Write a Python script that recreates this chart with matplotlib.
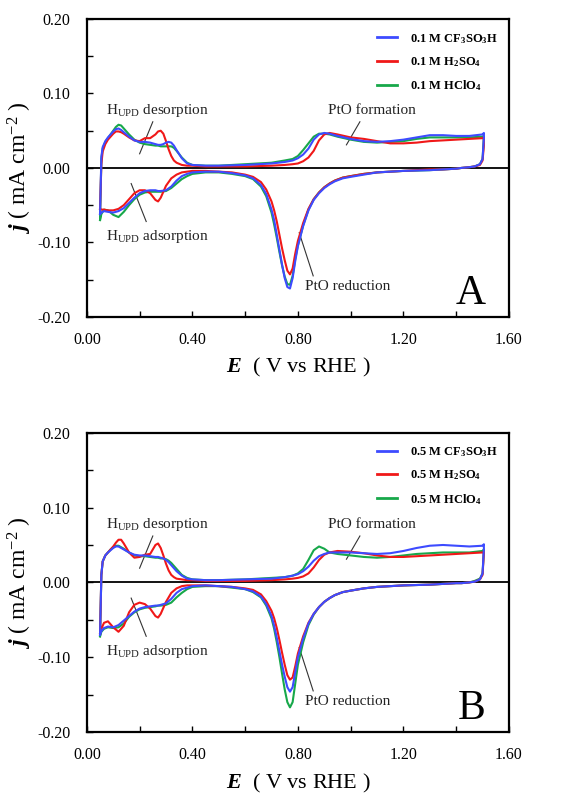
import numpy as np
import matplotlib
matplotlib.use("Agg")
import matplotlib.pyplot as plt
from matplotlib.ticker import MultipleLocator

plt.rcParams['font.family'] = ['Liberation Serif', 'DejaVu Serif']
plt.rcParams['mathtext.fontset'] = 'custom'
plt.rcParams['mathtext.rm'] = 'Liberation Serif'
plt.rcParams['mathtext.it'] = 'Liberation Serif:italic'
plt.rcParams['mathtext.bf'] = 'Liberation Serif:bold'
plt.rcParams['mathtext.bfit'] = 'Liberation Serif:italic:bold'

# potential grids (V vs RHE): anodic sweep up, cathodic sweep back down
xa = [0.05, 0.055, 0.06, 0.07, 0.08, 0.09, 0.10, 0.11, 0.12, 0.13, 0.14, 0.16, 0.18, 0.20,
      0.22, 0.24, 0.26, 0.27, 0.28, 0.29, 0.30, 0.31, 0.32, 0.33, 0.34, 0.36, 0.38, 0.40,
      0.45, 0.50, 0.60, 0.70, 0.75, 0.78, 0.80, 0.82, 0.84, 0.86, 0.88, 0.90, 0.92, 0.95,
      1.00, 1.05, 1.10, 1.15, 1.20, 1.25, 1.30, 1.35, 1.40, 1.45, 1.50, 1.505]
xc = [1.505, 1.50, 1.49, 1.47, 1.45, 1.42, 1.40, 1.35, 1.30, 1.20, 1.10, 1.05, 1.00, 0.97,
      0.94, 0.92, 0.90, 0.88, 0.86, 0.84, 0.82, 0.80, 0.79, 0.78, 0.77, 0.76, 0.75, 0.74,
      0.73, 0.72, 0.71, 0.70, 0.68, 0.66, 0.63, 0.60, 0.55, 0.50, 0.45, 0.40, 0.38, 0.36,
      0.34, 0.32, 0.30, 0.28, 0.27, 0.26, 0.24, 0.22, 0.20, 0.18, 0.16, 0.14, 0.12, 0.10,
      0.08, 0.065, 0.055, 0.05]

# ---- panel A : 0.1 M ----
a_cf3_up = [-0.062, 0.015, 0.028, 0.036, 0.041, 0.045, 0.049, 0.052, 0.053, 0.051, 0.048, 0.042, 0.037, 0.035,
            0.035, 0.034, 0.032, 0.031, 0.031, 0.032, 0.034, 0.035, 0.034, 0.030, 0.024, 0.013, 0.006, 0.004,
            0.003, 0.003, 0.004, 0.006, 0.008, 0.010, 0.013, 0.018, 0.026, 0.038, 0.045, 0.047, 0.046, 0.043,
            0.039, 0.036, 0.035, 0.036, 0.038, 0.041, 0.044, 0.044, 0.043, 0.043, 0.045, 0.047]
a_h2so4_up = [-0.055, 0.005, 0.022, 0.032, 0.038, 0.042, 0.046, 0.049, 0.049, 0.048, 0.046, 0.041, 0.037, 0.036,
              0.040, 0.040, 0.045, 0.049, 0.050, 0.046, 0.036, 0.025, 0.016, 0.010, 0.007, 0.004, 0.003, 0.003,
              0.002, 0.002, 0.002, 0.003, 0.004, 0.005, 0.006, 0.009, 0.014, 0.023, 0.037, 0.045, 0.047, 0.045,
              0.041, 0.039, 0.036, 0.033, 0.033, 0.034, 0.036, 0.037, 0.038, 0.039, 0.040, 0.041]
a_hclo4_up = [-0.070, 0.012, 0.026, 0.035, 0.040, 0.045, 0.050, 0.055, 0.058, 0.057, 0.053, 0.045, 0.038, 0.034,
              0.032, 0.031, 0.030, 0.030, 0.029, 0.029, 0.029, 0.029, 0.029, 0.027, 0.023, 0.014, 0.007, 0.004,
              0.003, 0.003, 0.005, 0.007, 0.010, 0.012, 0.016, 0.024, 0.033, 0.042, 0.046, 0.046, 0.045, 0.042,
              0.038, 0.035, 0.034, 0.035, 0.036, 0.039, 0.041, 0.041, 0.041, 0.041, 0.042, 0.043]
a_cf3_dn = [0.040, 0.012, 0.005, 0.002, 0.001, 0.000, -0.001, -0.002, -0.003, -0.004, -0.006, -0.009, -0.012, -0.014,
            -0.018, -0.022, -0.027, -0.034, -0.043, -0.057, -0.078, -0.105, -0.125, -0.148, -0.162, -0.160, -0.148, -0.130,
            -0.110, -0.090, -0.070, -0.056, -0.035, -0.023, -0.014, -0.010, -0.007, -0.005, -0.005, -0.006, -0.008, -0.011,
            -0.017, -0.025, -0.030, -0.031, -0.031, -0.030, -0.030, -0.031, -0.034, -0.040, -0.047, -0.054, -0.058, -0.060,
            -0.059, -0.058, -0.060, -0.062]
a_h2so4_dn = [0.030, 0.010, 0.004, 0.002, 0.001, 0.000, -0.001, -0.002, -0.002, -0.004, -0.006, -0.008, -0.011, -0.013,
              -0.017, -0.021, -0.026, -0.033, -0.042, -0.055, -0.074, -0.098, -0.115, -0.135, -0.143, -0.138, -0.124, -0.108,
              -0.090, -0.072, -0.057, -0.045, -0.029, -0.019, -0.012, -0.009, -0.006, -0.005, -0.004, -0.004, -0.005, -0.006,
              -0.009, -0.014, -0.024, -0.040, -0.045, -0.043, -0.034, -0.030, -0.030, -0.034, -0.042, -0.050, -0.055, -0.057,
              -0.057, -0.056, -0.056, -0.055]
a_hclo4_dn = [0.042, 0.012, 0.005, 0.002, 0.001, 0.000, -0.001, -0.002, -0.003, -0.004, -0.006, -0.008, -0.011, -0.013,
              -0.017, -0.021, -0.026, -0.033, -0.042, -0.056, -0.077, -0.104, -0.122, -0.145, -0.157, -0.156, -0.146, -0.131,
              -0.113, -0.094, -0.076, -0.060, -0.038, -0.025, -0.015, -0.011, -0.008, -0.006, -0.006, -0.008, -0.011, -0.015,
              -0.021, -0.027, -0.031, -0.032, -0.032, -0.032, -0.032, -0.033, -0.036, -0.042, -0.050, -0.059, -0.066, -0.063,
              -0.057, -0.056, -0.062, -0.070]

# ---- panel B : 0.5 M ----
b_cf3_up = [-0.070, 0.010, 0.028, 0.036, 0.040, 0.043, 0.046, 0.048, 0.048, 0.046, 0.044, 0.040, 0.037, 0.036,
            0.036, 0.035, 0.034, 0.034, 0.033, 0.032, 0.030, 0.027, 0.023, 0.019, 0.015, 0.009, 0.005, 0.004,
            0.003, 0.003, 0.004, 0.005, 0.007, 0.009, 0.011, 0.015, 0.021, 0.029, 0.035, 0.038, 0.040, 0.040,
            0.040, 0.039, 0.038, 0.039, 0.042, 0.046, 0.049, 0.050, 0.049, 0.048, 0.049, 0.051]
b_h2so4_up = [-0.068, 0.010, 0.028, 0.036, 0.040, 0.044, 0.048, 0.053, 0.057, 0.057, 0.052, 0.040, 0.033, 0.034,
              0.037, 0.038, 0.050, 0.052, 0.046, 0.036, 0.025, 0.016, 0.010, 0.007, 0.005, 0.004, 0.003, 0.003,
              0.002, 0.002, 0.002, 0.003, 0.004, 0.005, 0.006, 0.008, 0.012, 0.020, 0.030, 0.037, 0.040, 0.042,
              0.041, 0.039, 0.036, 0.034, 0.034, 0.035, 0.036, 0.037, 0.038, 0.039, 0.040, 0.041]
b_hclo4_up = [-0.072, 0.010, 0.028, 0.036, 0.040, 0.044, 0.047, 0.049, 0.049, 0.047, 0.045, 0.040, 0.036, 0.035,
              0.035, 0.034, 0.033, 0.033, 0.032, 0.032, 0.031, 0.029, 0.026, 0.022, 0.018, 0.010, 0.006, 0.004,
              0.003, 0.003, 0.004, 0.006, 0.007, 0.009, 0.012, 0.018, 0.030, 0.043, 0.048, 0.045, 0.040, 0.038,
              0.036, 0.034, 0.033, 0.034, 0.036, 0.038, 0.039, 0.040, 0.040, 0.040, 0.042, 0.044]
b_cf3_dn = [0.045, 0.012, 0.004, 0.001, 0.000, -0.001, -0.001, -0.002, -0.003, -0.004, -0.006, -0.008, -0.011, -0.013,
            -0.017, -0.021, -0.026, -0.033, -0.042, -0.055, -0.075, -0.100, -0.120, -0.140, -0.146, -0.140, -0.126, -0.110,
            -0.092, -0.074, -0.058, -0.045, -0.029, -0.019, -0.012, -0.009, -0.006, -0.005, -0.004, -0.005, -0.007, -0.009,
            -0.014, -0.022, -0.028, -0.030, -0.031, -0.031, -0.032, -0.033, -0.035, -0.039, -0.045, -0.051, -0.057, -0.060,
            -0.059, -0.061, -0.065, -0.070]
b_h2so4_dn = [0.040, 0.010, 0.004, 0.001, 0.000, -0.001, -0.001, -0.002, -0.003, -0.004, -0.006, -0.008, -0.011, -0.013,
              -0.017, -0.021, -0.026, -0.033, -0.042, -0.054, -0.072, -0.095, -0.112, -0.127, -0.130, -0.124, -0.110, -0.094,
              -0.077, -0.061, -0.048, -0.038, -0.025, -0.016, -0.010, -0.008, -0.006, -0.005, -0.004, -0.004, -0.004, -0.005,
              -0.008, -0.014, -0.026, -0.042, -0.047, -0.045, -0.035, -0.029, -0.027, -0.030, -0.040, -0.058, -0.066, -0.060,
              -0.052, -0.054, -0.062, -0.068]
b_hclo4_dn = [0.043, 0.012, 0.005, 0.002, 0.000, -0.001, -0.001, -0.002, -0.003, -0.004, -0.006, -0.008, -0.011, -0.013,
              -0.017, -0.021, -0.026, -0.033, -0.043, -0.057, -0.080, -0.110, -0.135, -0.160, -0.167, -0.160, -0.143, -0.122,
              -0.100, -0.080, -0.062, -0.048, -0.031, -0.020, -0.013, -0.009, -0.007, -0.005, -0.005, -0.006, -0.009, -0.014,
              -0.020, -0.027, -0.030, -0.031, -0.031, -0.032, -0.033, -0.034, -0.036, -0.040, -0.046, -0.055, -0.060, -0.061,
              -0.060, -0.062, -0.066, -0.072]

acids = [r'CF$_\mathbf{3}$SO$_\mathbf{3}$H', r'H$_\mathbf{2}$SO$_\mathbf{4}$', r'HClO$_\mathbf{4}$']
colors = ['#3d4bff', '#f01818', '#17a84a']


def panel(ax, conc, ups, dns, letter):
    ax.axhline(0, color='black', lw=1.3, zorder=1)
    lines = []
    for k in [2, 1, 0]:
        x = np.concatenate([xa, xc])
        y = np.concatenate([ups[k], dns[k]])
        l, = ax.plot(x, y, color=colors[k], lw=1.5, zorder=3 + (2 - k),
                     label=conc + ' M ' + acids[k])
        lines.append(l)
    lines = lines[::-1]
    leg = ax.legend(handles=lines, loc='upper right', frameon=False, prop={'weight': 'bold', 'size': 9},
                    handlelength=1.6, handletextpad=1.0, labelspacing=0.75,
                    bbox_to_anchor=(1.0, 0.995))
    for h in leg.legend_handles:
        h.set_linewidth(2.0)

    # annotations
    tc = '#222222'
    ax.text(0.073, 0.077, r'H$_{\mathrm{UPD}}$ desorption', fontsize=11, va='center', color=tc)
    ax.plot([0.25, 0.20], [0.062, 0.019], color='#333333', lw=0.8)
    ax.text(0.915, 0.077, 'PtO formation', fontsize=11, va='center', color=tc)
    ax.plot([1.035, 0.984], [0.062, 0.031], color='#333333', lw=0.8)
    ax.text(0.073, -0.092, r'H$_{\mathrm{UPD}}$ adsorption', fontsize=11, va='center', color=tc)
    ax.plot([0.168, 0.225], [-0.021, -0.072], color='#333333', lw=0.8)
    ax.text(0.826, -0.159, 'PtO reduction', fontsize=11, va='center', color=tc)
    ax.plot([0.805, 0.858], [-0.087, -0.145], color='#333333', lw=0.8)
    ax.text(1.51, -0.183, letter, fontsize=30, ha='right', va='baseline')

    ax.set_xlim(0, 1.6)
    ax.set_ylim(-0.2, 0.2)
    ax.xaxis.set_major_locator(MultipleLocator(0.4))
    ax.xaxis.set_minor_locator(MultipleLocator(0.2))
    ax.yaxis.set_major_locator(MultipleLocator(0.1))
    ax.yaxis.set_minor_locator(MultipleLocator(0.05))
    ax.xaxis.set_major_formatter(plt.FuncFormatter(lambda v, p: '%.2f' % v))
    ax.yaxis.set_major_formatter(plt.FuncFormatter(lambda v, p: '%.2f' % v))
    ax.tick_params(which='both', direction='in', length=4, width=1.0, labelsize=11.5)
    ax.tick_params(axis='y', pad=12)
    ax.tick_params(axis='x', pad=11)
    for s in ax.spines.values():
        s.set_linewidth(1.6)
    ax.set_xlabel(r'$\mathbfit{E}$  ( V vs RHE )', fontsize=16, labelpad=6)
    ax.set_ylabel(r'$\mathbfit{j}$ ( mA cm$^{-2}$ )', fontsize=17, labelpad=2)


fig = plt.figure(figsize=(5.79, 7.94), dpi=100)
axA = fig.add_axes([0.150, 0.601, 0.729, 0.375])
axB = fig.add_axes([0.150, 0.078, 0.729, 0.377])
panel(axA, '0.1', [a_cf3_up, a_h2so4_up, a_hclo4_up], [a_cf3_dn, a_h2so4_dn, a_hclo4_dn], 'A')
panel(axB, '0.5', [b_cf3_up, b_h2so4_up, b_hclo4_up], [b_cf3_dn, b_h2so4_dn, b_hclo4_dn], 'B')
fig.savefig('out.png', dpi=100)
